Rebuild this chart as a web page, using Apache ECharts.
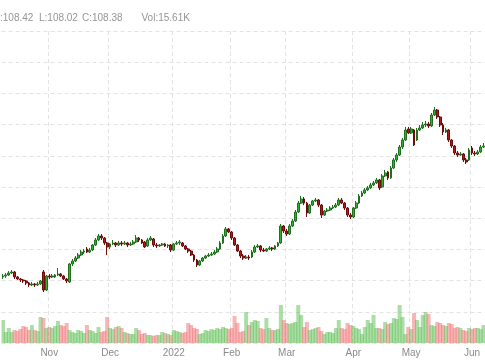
<!DOCTYPE html>
<html><head><meta charset="utf-8">
<script src="https://cdn.jsdelivr.net/npm/echarts@6/dist/echarts.min.js"></script>
<style>html,body{margin:0;padding:0;background:#fff}#c{width:485px;height:360px}</style>
</head><body><div id="c"></div>
<script>
// ---- data ----
const startDate = '2021-10-08';
const endDate = '2022-06-07';
const holidays = ['2021-11-25','2021-12-24','2022-01-17','2022-02-21','2022-04-15','2022-05-30'];
const monthNames = ['Jan','Feb','Mar','Apr','May','Jun','Jul','Aug','Sep','Oct','Nov','Dec'];
const headerLabels = ['H:108.42','L:108.02','C:108.38','Vol:15.61K'];

const opens = [70.58,70.74,70.90,71.22,71.38,70.58,70.26,70.10,69.94,69.62,
69.30,69.46,69.30,69.46,71.38,68.49,70.74,70.58,70.58,70.90,
71.06,70.74,70.26,69.78,72.66,73.14,73.62,74.10,74.58,75.07,
74.58,74.90,75.71,76.51,77.15,76.83,76.03,75.39,75.87,76.03,
75.71,76.03,75.87,76.03,75.71,75.87,76.19,76.83,76.51,76.19,
75.55,76.51,76.67,75.71,75.55,75.71,75.87,75.55,75.71,74.90,
75.87,76.03,76.03,75.55,75.07,74.74,74.10,73.30,72.50,73.14,
73.62,73.94,74.10,74.26,74.58,75.07,76.03,77.15,78.27,77.79,
76.83,75.71,74.74,73.94,73.62,73.78,73.78,74.58,75.39,75.55,
74.90,74.74,75.07,75.23,75.07,75.55,76.03,78.75,77.95,77.47,
78.75,79.55,80.99,82.43,83.08,82.43,80.83,82.11,82.76,82.92,
82.11,80.51,81.15,81.31,81.63,81.79,82.11,82.92,82.43,81.63,
80.51,80.19,81.63,82.43,83.56,84.04,84.52,84.85,85.33,85.65,
86.13,85.01,86.77,87.41,86.45,88.05,89.33,90.13,91.41,92.53,
94.30,93.66,94.14,92.53,94.14,94.46,94.94,95.10,94.78,96.54,
97.34,96.22,94.94,93.82,94.14,92.53,91.57,90.45,90.13,90.29,
89.33,89.33,91.25,90.45,90.29,90.61,91.41];

const closes = [70.74,70.90,71.22,71.38,70.58,70.26,70.10,69.94,69.62,69.30,
69.46,69.30,69.46,69.94,68.49,70.74,70.58,70.74,70.90,71.06,
70.74,70.26,69.94,72.66,73.14,73.62,74.10,74.58,74.74,74.58,
74.90,75.71,76.51,77.15,76.83,76.03,75.39,75.87,76.03,75.71,
76.03,75.87,76.03,75.71,75.87,76.19,76.83,76.51,76.03,75.39,
76.51,76.83,75.71,75.55,75.71,75.87,75.55,75.71,74.90,75.87,
76.03,76.19,75.55,75.07,74.74,74.10,73.30,72.50,73.14,73.62,
73.94,74.10,74.26,74.58,75.07,76.03,77.15,78.27,77.79,76.83,
75.71,74.74,73.94,73.62,73.78,73.62,74.58,75.39,75.55,74.90,
74.74,75.07,75.23,75.07,75.55,76.03,78.75,77.95,77.47,78.75,
79.55,80.99,82.43,83.08,82.43,80.83,82.11,82.76,82.92,82.11,
80.51,81.15,81.31,81.63,81.79,82.11,82.92,82.43,81.63,80.51,
80.19,81.63,82.43,83.56,84.04,84.52,84.85,85.33,85.65,86.13,
84.85,86.77,87.25,86.45,88.05,89.33,90.13,91.41,92.53,94.14,
93.66,94.30,91.73,94.14,94.46,94.94,95.10,94.78,96.54,97.34,
96.22,94.94,93.82,94.14,92.53,91.57,90.45,90.13,90.29,89.33,
89.01,90.93,90.45,90.29,90.61,91.41,91.57];

const lows = [70.26,70.42,70.74,71.06,70.26,70.10,69.78,69.62,69.30,68.98,
69.14,68.98,69.14,69.30,68.17,68.33,70.26,70.42,70.42,70.74,
70.58,70.10,69.62,69.62,72.34,72.98,73.46,73.94,74.26,74.42,
74.42,74.74,75.55,76.35,76.51,75.71,74.10,75.07,75.71,75.39,
75.55,75.55,75.71,75.39,75.55,75.71,76.03,76.19,75.87,75.23,
75.39,76.35,75.39,75.23,75.39,75.55,75.39,75.23,74.58,74.74,
75.71,75.71,75.39,74.90,74.42,73.94,72.98,72.18,72.34,72.98,
73.46,73.78,73.94,74.10,74.42,74.90,75.87,76.99,77.63,76.51,
75.55,74.58,73.62,73.30,73.46,73.30,73.62,74.42,75.23,74.58,
74.58,74.58,74.90,74.74,74.90,75.39,75.87,77.63,77.15,77.31,
78.59,79.39,80.83,82.27,82.11,80.19,80.67,81.95,82.60,81.79,
80.03,80.35,80.99,81.15,81.47,81.63,81.95,82.27,81.31,80.19,
79.87,80.03,81.47,82.27,83.40,83.88,84.36,84.69,85.17,85.49,
84.52,84.85,86.61,86.13,86.29,87.89,89.01,89.97,91.09,92.37,
93.50,93.50,91.57,92.37,93.98,94.30,94.62,94.46,94.62,96.38,
95.90,94.62,93.33,93.66,92.21,91.25,90.13,89.81,89.97,89.01,
88.69,89.17,90.13,89.97,90.13,90.45,91.25];

const highs = [71.06,71.22,71.54,71.70,71.54,70.74,70.42,70.26,70.10,69.78,
69.78,69.62,69.78,70.10,71.70,70.90,71.06,71.06,71.06,72.02,
71.22,70.90,70.42,72.82,73.46,73.94,74.42,74.90,75.07,75.39,
75.23,75.87,76.83,77.47,77.47,76.99,76.19,76.03,76.51,76.19,
76.35,76.35,76.35,76.19,76.19,76.51,77.31,76.99,76.67,76.35,
76.83,77.15,76.83,76.03,75.87,76.03,76.03,75.87,75.87,76.03,
76.35,76.51,76.19,75.71,75.23,74.90,74.26,73.46,73.30,73.78,
74.10,74.42,74.58,74.90,75.39,76.35,77.47,78.59,78.43,77.95,
76.99,75.87,74.90,74.26,74.10,74.10,74.90,75.71,75.87,75.71,
75.23,75.23,75.55,75.39,75.71,76.19,79.07,78.91,78.27,79.07,
79.87,81.31,82.76,83.56,83.40,82.60,82.27,82.92,83.24,83.08,
82.27,81.31,81.63,81.95,82.11,82.43,83.24,83.24,82.60,81.79,
80.83,81.79,82.76,83.88,84.36,84.85,85.17,85.65,85.97,86.45,
86.29,87.09,87.73,87.57,88.37,89.65,90.45,91.73,92.85,94.62,
94.62,94.62,94.30,94.46,94.94,95.42,95.58,95.42,96.86,97.82,
97.50,96.38,95.26,94.46,94.30,92.69,91.73,90.77,90.61,90.45,
89.65,91.25,91.57,90.77,90.93,91.73,92.05];

const volumes = [23,11,15,11,13,12,14,17,16,13,
18,13,12,26,25,15,16,15,17,22,
18,17,20,13,11,10,13,12,10,18,
13,12,10,16,11,12,26,15,14,16,
17,15,11,10,9,9,15,13,9,10,
8,8,7,8,8,11,10,9,8,13,
12,11,10,11,20,18,15,14,9,10,
13,12,14,13,15,14,16,15,14,15,
27,20,11,12,31,18,21,23,22,15,
14,25,15,13,13,14,38,23,20,19,
20,21,38,28,16,21,13,14,15,16,
12,9,11,11,10,15,23,15,14,20,
18,17,15,14,9,16,23,20,28,15,
15,14,21,19,20,25,24,38,26,9,
16,14,30,23,16,28,31,29,18,17,
21,20,18,17,20,19,15,16,15,13,
12,15,14,15,15,14,18];

// ---- trading-day categories ----
function pad(n){return (n<10?'0':'')+n;}
const dates = [];
(function(){
  const d = new Date(startDate + 'T00:00:00Z');
  const end = new Date(endDate + 'T00:00:00Z');
  while (d <= end) {
    const s = d.getUTCFullYear() + '-' + pad(d.getUTCMonth()+1) + '-' + pad(d.getUTCDate());
    const wd = d.getUTCDay();
    if (wd !== 0 && wd !== 6 && holidays.indexOf(s) < 0) dates.push(s);
    d.setUTCDate(d.getUTCDate()+1);
  }
})();
const monthStart = dates.map((s,i) => i > 0 && s.slice(5,7) !== dates[i-1].slice(5,7));
const monthLabel = dates.map(s => {
  const m = parseInt(s.slice(5,7),10) - 1;
  return m === 0 ? s.slice(0,4) : monthNames[m];
});

const ohlc = opens.map((o,i) => [o, closes[i], lows[i], highs[i]]);
const volData = volumes.map((v,i) => ({
  value: v,
  itemStyle: { color: closes[i] >= opens[i] ? 'rgba(80,185,70,0.48)' : 'rgba(238,100,100,0.48)' }
}));

const gridLine = { color: '#e3e3e3', type: [4,3], width: 1 };
const headerX = [-7.2, 39, 82, 141.5];

const chart = echarts.init(document.getElementById('c'), null, { renderer: 'canvas' });
chart.setOption({
  animation: false,
  backgroundColor: '#ffffff',
  grid: [
    { left: 1.5, right: -1, top: 31, bottom: 17 },
    { left: 1.5, right: -1, top: 283, bottom: 17 }
  ],
  xAxis: [
    { type: 'category', gridIndex: 0, data: dates, boundaryGap: true,
      axisLine: { show: false }, axisTick: { show: false }, axisLabel: { show: false },
      splitLine: { show: true, interval: (i) => monthStart[i], lineStyle: gridLine } },
    { type: 'category', gridIndex: 1, data: dates, boundaryGap: true,
      axisLine: { show: false }, axisTick: { show: false },
      axisLabel: { show: true, interval: (i) => monthStart[i], formatter: (v, i) => monthLabel[i],
        color: '#8a8a8a', fontSize: 10, fontFamily: 'Arial, Liberation Sans, sans-serif', margin: 5 },
      splitLine: { show: false } }
  ],
  yAxis: [
    { type: 'value', gridIndex: 0, min: 60, max: 110, interval: 5,
      axisLine: { show: false }, axisTick: { show: false }, axisLabel: { show: false },
      splitLine: { show: true, lineStyle: gridLine } },
    { type: 'value', gridIndex: 1, min: 0, max: 60, show: false, splitLine: { show: false } }
  ],
  series: [
    { type: 'bar', xAxisIndex: 1, yAxisIndex: 1, data: volData, barWidth: 4, z: 1, silent: true },
    { type: 'candlestick', xAxisIndex: 0, yAxisIndex: 0, data: ohlc, barWidth: 2.3, z: 3,
      itemStyle: { color: '#33b033', color0: '#ad1a1a', borderColor: '#1f6f1f', borderColor0: '#6e0c0c', borderWidth: 1 } }
  ],
  graphic: headerLabels.map((t, i) => ({
    type: 'text', x: headerX[i], y: 18, silent: true,
    style: { text: t, fill: '#959595', font: '10px Arial, "Liberation Sans", sans-serif', verticalAlign: 'middle' }
  }))
});
</script>
</body></html>
